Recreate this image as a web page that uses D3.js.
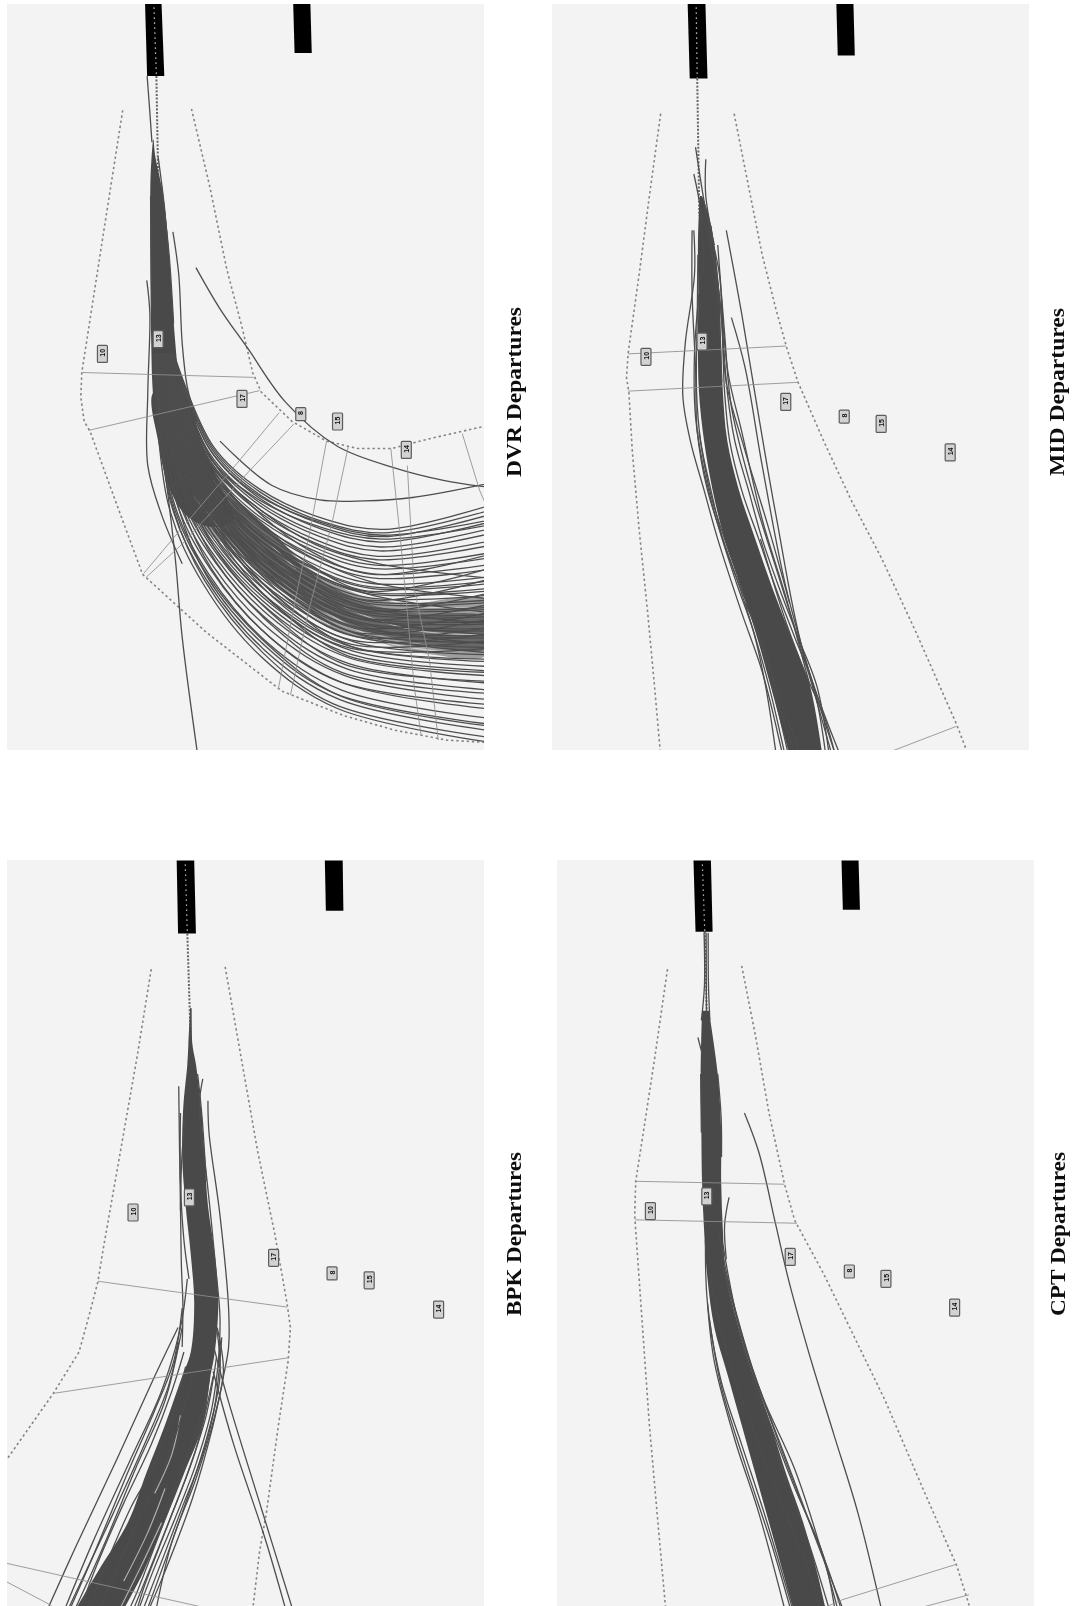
<!DOCTYPE html>
<html><head><meta charset="utf-8">
<style>html,body{margin:0;padding:0;background:#fff}svg{display:block}</style>
<script src="https://cdn.jsdelivr.net/npm/d3@7/dist/d3.min.js"></script></head><body>
<svg id="c" width="1077" height="1606"></svg>
<script>
const waypointLabels=["10","13","17","8","15","14"];

const dvrWaypoints=[[298,722],[460,692],[704,814],[875,845],[982,860],[1182,918]];
const midWaypoints=[[310,728],[474,697],[719,820],[890,850],[998,865],[1200,923]];
const bpkWaypoints=[[387,764],[551,733],[796,857],[966,889],[1074,903],[1276,963]];
const cptWaypoints=[[323,761],[488,731],[732,855],[905,885],[1012,900],[1213,959]];

const dvrRunways=[[[422,8],[470,8],[478,155],[428,155]],[[853,8],[903,8],[907,108],[857,108]]];
const midRunways=[[[432,8],[484,8],[490,160],[438,160]],[[867,8],[917,8],[921,113],[871,113]]];
const bpkRunways=[[[514,42],[565,42],[570,192],[518,192]],[[945,42],[997,42],[999,145],[948,145]]];
const cptRunways=[[[449,42],[500,42],[505,188],[455,188]],[[882,42],[932,42],[936,143],[886,143]]];

const dvrCenter=[[448,15],[455,155],[462,440]];
const midCenter=[[457,15],[460,160],[466,440]];
const bpkCenter=[[539,50],[545,192],[556,440]];
const cptCenter=[[475,50],[482,188],[488,360]];

const dvrBoundaries=[
 [[357,225],[300,480],[238,760],[235,810],[245,860],[262,880],[340,1030],[415,1172],[600,1290],[820,1410],[1000,1460],[1150,1490],[1300,1510],[1420,1515]],
 [[557,222],[610,380],[660,550],[705,670],[735,760],[760,800],[850,860],[950,900],[1040,915],[1140,915],[1250,895],[1420,868]]];
const midBoundaries=[
 [[353,232],[320,400],[290,560],[258,720],[253,770],[260,800],[270,920],[290,1080],[315,1250],[335,1400],[352,1535]],
 [[568,232],[610,380],[650,520],[690,630],[722,710],[755,780],[830,900],[910,1020],[1000,1140],[1100,1290],[1220,1480],[1250,1535]]];
const bpkBoundaries=[
 [[440,265],[400,440],[345,660],[300,840],[285,905],[265,960],[230,1050],[155,1135],[10,1280]],
 [[655,260],[700,440],[750,640],[800,810],[835,950],[845,1000],[838,1070],[810,1200],[775,1380],[755,1460],[735,1580]]];
const cptBoundaries=[
 [[373,265],[335,450],[300,610],[280,700],[277,770],[285,850],[300,1000],[320,1200],[345,1400],[368,1580]],
 [[590,258],[630,400],[670,560],[715,705],[745,780],[830,890],[920,1020],[1010,1150],[1120,1330],[1220,1490],[1260,1580]]];

const dvrGates=[
 [[238,760],[738,770]],[[258,878],[755,797]],
 [[812,842],[690,945],[520,1085],[418,1170]],[[855,865],[720,965],[530,1110],[425,1178]],
 [[950,900],[900,1090],[860,1220],[810,1405]],[[1013,912],[965,1070],[900,1240],[845,1418]],
 [[1137,915],[1165,1100],[1205,1400],[1225,1500]],[[1185,950],[1205,1200],[1250,1350],[1275,1510]],
 [[1345,885],[1395,1000],[1420,1040]]];
const midGates=[[[258,722],[720,706]],[[258,798],[755,780]],[[1020,1535],[1218,1482]]];
const bpkGates=[[[285,905],[835,958]],[[155,1135],[838,1062]],[[10,1482],[250,1520],[600,1575]],[[10,1518],[150,1570]]];
const cptGates=[[[280,700],[715,706]],[[278,779],[752,786]],[[1220,1485],[885,1558],[830,1575]],[[1255,1548],[1110,1575]]];

// Solid bundle of tracks: [row, left edge, right edge]
const dvrBand=[[285,445,447],[320,441,452],[360,438,464],[400,437,475],[500,437,490],[600,438,500],[700,440,510],[780,443,522],[850,450,545]];
const midBand=[[400,468,474],[430,465,490],[500,462,510],[600,463,525],[700,462,530],[800,465,535],[900,480,548],[1000,505,582],[1100,540,630],[1200,590,680],[1300,635,735],[1400,675,790],[1535,728,825]];
const bpkBand=[[345,553,557],[420,548,560],[460,545,570],[550,533,585],[650,530,595],[750,540,605],[850,555,625],[950,565,635],[1050,555,625],[1100,530,612],[1200,480,590],[1300,425,535],[1400,372,478],[1500,285,418],[1575,222,362]];
const cptBand=[[350,474,494],[480,470,520],[600,472,530],[700,474,530],[800,480,535],[900,490,545],[1000,510,580],[1100,550,625],[1200,590,675],[1300,630,720],[1400,670,770],[1500,710,810],[1575,740,835]];

// Dense part of the DVR fan: solid outline, the lighter core, and its darkest run
const dvrSolid=[[447,800],[530,800],[590,910],[640,990],[680,1060],[620,1075],[540,1050],[490,990],[460,900]];
const dvrCore=[[590,930],[690,1020],[800,1090],[900,1160],[1050,1215],[1200,1230],[1420,1225],[1420,1335],[1250,1335],[1100,1310],[950,1275],[820,1205],[700,1130],[600,1085],[530,1010]];
const dvrDark=[[620,1000],[800,1090],[900,1170],[1040,1225],[1200,1250],[1420,1262],[1420,1322],[1200,1310],[1040,1280],[880,1225],[760,1160],[650,1090]];

// Pale gaps between neighbouring tracks
const dvrGaps=[[[560,1010],[680,1110],[820,1215],[960,1275]],[[620,980],[730,1070],[860,1160]],[[900,1130],[1050,1205],[1200,1235],[1420,1240]],[[800,1180],[950,1250],[1120,1310],[1300,1330]],[[1000,1240],[1200,1285],[1420,1295]]];
const midGaps=[];
const bpkGaps=[[[480,1330],[430,1420],[360,1520]],[[470,1400],[410,1490],[350,1575]],[[525,1180],[500,1260],[450,1340]]];
const cptGaps=[];

const dvrTracks=[
 [[428,155],[435,220],[442,290]],
 [[438,400],[440,520],[442,650]],[[470,380],[492,520],[505,660]],[[460,320],[478,420],[490,520]],
 [[503,473],[520,560],[530,700],[545,790],[572,860]],
 [[427,572],[436,640],[430,800],[430,950],[470,1050],[530,1150]],
 [[570,546],[640,630],[720,710],[830,820],[980,910],[1150,955],[1290,980],[1430,995]],
 [[640,900],[790,990],[930,1020],[1060,1022],[1200,1015],[1430,985]],
 [[480,960],[510,1140],[530,1300],[574,1535]],
 [[505,720],[620,910],[760,1000],[950,1060],[1120,1080],[1430,1030]],
 [[504,720],[617,912],[757,1004],[946,1066],[1117,1087],[1430,1040]],
 [[503,720],[615,915],[753,1008],[942,1071],[1114,1095],[1430,1049]],
 [[501,720],[611,918],[748,1013],[937,1080],[1110,1106],[1430,1064]],
 [[499,720],[607,922],[743,1019],[931,1088],[1106,1116],[1430,1078]],
 [[498,720],[604,924],[740,1023],[927,1094],[1103,1124],[1430,1088]],
 [[496,720],[600,928],[734,1028],[921,1102],[1099,1135],[1430,1103]],
 [[495,720],[598,930],[731,1032],[918,1108],[1096,1142],[1430,1112]],
 [[493,720],[594,934],[726,1038],[912,1116],[1092,1153],[1430,1127]],
 [[492,720],[591,936],[723,1042],[908,1122],[1089,1160],[1430,1137]],
 [[490,720],[588,940],[718,1048],[902,1130],[1085,1171],[1430,1151]],
 [[489,720],[585,942],[714,1051],[899,1136],[1082,1179],[1430,1161]],
 [[487,720],[581,946],[709,1057],[893,1144],[1078,1190],[1430,1176]],
 [[486,720],[578,948],[706,1061],[889,1150],[1075,1197],[1430,1185]],
 [[485,720],[577,950],[704,1063],[887,1152],[1074,1200],[1430,1190]],
 [[484,720],[575,952],[700,1067],[883,1158],[1071,1208],[1430,1200]],
 [[483,720],[573,953],[699,1068],[882,1161],[1070,1211],[1430,1205]],
 [[482,720],[571,956],[695,1072],[878,1166],[1067,1219],[1430,1214]],
 [[481,720],[568,958],[692,1076],[874,1172],[1064,1226],[1430,1224]],
 [[480,720],[567,959],[690,1078],[872,1175],[1063,1230],[1430,1229]],
 [[479,720],[564,962],[687,1082],[868,1180],[1060,1237],[1430,1239]],
 [[479,720],[563,963],[685,1084],[866,1183],[1058,1241],[1430,1243]],
 [[477,720],[560,965],[682,1087],[863,1189],[1056,1248],[1430,1253]],
 [[477,720],[559,966],[680,1089],[861,1192],[1054,1252],[1430,1258]],
 [[476,720],[556,969],[677,1093],[857,1197],[1051,1259],[1430,1268]],
 [[475,720],[555,970],[675,1095],[855,1200],[1050,1263],[1430,1273]],
 [[474,720],[552,972],[672,1099],[851,1206],[1047,1270],[1430,1282]],
 [[473,720],[551,974],[670,1101],[849,1208],[1046,1273],[1430,1287]],
 [[472,720],[549,976],[667,1105],[846,1214],[1043,1281],[1430,1297]],
 [[471,720],[547,977],[665,1106],[844,1217],[1042,1284],[1430,1302]],
 [[470,720],[545,980],[661,1110],[840,1222],[1039,1292],[1430,1311]],
 [[469,720],[542,982],[658,1114],[836,1228],[1036,1299],[1430,1321]],
 [[467,720],[538,986],[653,1120],[830,1236],[1032,1310],[1430,1336]],
 [[465,720],[534,989],[648,1125],[825,1245],[1028,1321],[1430,1350]],
 [[464,720],[532,992],[644,1129],[821,1250],[1025,1328],[1430,1360]],
 [[463,720],[529,994],[641,1133],[817,1256],[1022,1335],[1430,1369]],
 [[462,720],[526,996],[638,1137],[813,1262],[1019,1343],[1430,1379]],
 [[460,720],[522,1000],[632,1142],[807,1270],[1015,1354],[1430,1394]],
 [[458,720],[519,1004],[627,1148],[802,1278],[1011,1365],[1430,1408]],
 [[456,720],[513,1008],[621,1156],[794,1290],[1005,1379],[1430,1428]],
 [[453,720],[508,1013],[614,1163],[787,1301],[1000,1394],[1430,1447]],
 [[451,720],[503,1018],[607,1171],[779,1312],[994,1408],[1430,1466]],
 [[448,720],[496,1024],[598,1180],[769,1326],[987,1427],[1430,1491]],
 [[445,720],[490,1030],[590,1190],[760,1340],[980,1445],[1430,1515]],
 [[500,720],[606,925],[735,1034],[905,1125],[1085,1172],[1430,1130]],
 [[497,720],[598,932],[722,1046],[890,1146],[1070,1206],[1430,1158]],
 [[494,720],[590,940],[712,1056],[880,1160],[1062,1224],[1430,1180]],
 [[491,720],[584,945],[702,1066],[868,1178],[1052,1246],[1430,1208]],
 [[488,720],[577,951],[692,1076],[858,1192],[1044,1262],[1430,1232]],
 [[486,720],[572,956],[684,1084],[848,1206],[1036,1280],[1430,1248]],
 [[484,720],[568,960],[678,1090],[842,1214],[1032,1290],[1430,1262]],
 [[482,720],[565,963],[672,1098],[836,1222],[1028,1298],[1430,1279]],
 [[480,720],[561,966],[666,1105],[830,1232],[1024,1306],[1430,1292]],
 [[478,720],[558,968],[662,1110],[826,1238],[1020,1314],[1430,1306]],
 [[476,720],[554,972],[656,1116],[820,1246],[1016,1322],[1430,1322]],
 [[495,720],[596,932],[735,1028],[915,1110],[1100,1150],[1430,1180]],
 [[492,720],[590,938],[720,1044],[900,1135],[1085,1188],[1430,1222]],
 [[489,720],[582,946],[708,1060],[885,1158],[1070,1212],[1430,1250]],
 [[486,720],[576,952],[698,1070],[875,1174],[1058,1238],[1430,1272]],
 [[483,720],[570,958],[688,1082],[865,1190],[1048,1258],[1430,1296]],
 [[480,720],[564,962],[680,1090],[855,1202],[1040,1275],[1430,1314]],
 [[477,720],[558,968],[672,1100],[846,1216],[1032,1292],[1430,1332]],
 [[474,720],[550,976],[660,1112],[832,1232],[1020,1318],[1430,1345]],
 [[471,720],[544,982],[650,1122],[822,1248],[1012,1338],[1430,1372]],
 [[467,720],[536,988],[640,1134],[810,1264],[1004,1356],[1430,1390]],
 [[462,720],[528,994],[628,1146],[798,1280],[994,1372],[1430,1415]],
 [[458,720],[518,1006],[615,1160],[785,1300],[985,1390],[1430,1438]],
 [[455,720],[510,1012],[602,1176],[772,1318],[975,1415],[1430,1478]],
 [[450,720],[498,1022],[595,1184],[765,1332],[970,1436],[1430,1505]],
 [[498,720],[602,926],[745,1016],[935,1076],[1110,1100],[1430,1070]],
 [[502,720],[612,918],[750,1010],[942,1068],[1112,1092],[1430,1060]],
 [[449,720],[500,1020],[604,1174],[780,1316],[990,1420],[1430,1482]]];

const midTracks=[
 [[450,470],[452,560],[425,700],[418,810],[440,900],[480,1000],[520,1100],[590,1250],[650,1370],[708,1535]],
 [[445,470],[445,600],[455,750],[460,880],[490,1000],[560,1150],[640,1300],[725,1535]],
 [[545,470],[590,640],[640,850],[690,1050],[770,1330],[875,1535]],
 [[560,648],[600,750],[650,950],[720,1200],[800,1400],[862,1535]],
 [[520,500],[540,680],[560,830],[620,1000],[700,1180],[780,1360],[852,1535]],
 [[530,600],[550,760],[590,880],[650,1060],[720,1220],[790,1400]],
 [[450,355],[470,430],[480,560]],
 [[455,300],[475,390],[495,470]],
 [[485,325],[485,400],[510,500]],
 [[500,460],[530,640],[545,780],[600,920],[670,1080],[730,1230]],
 [[465,880],[500,1010],[590,1200],[680,1380],[760,1535]],
 [[470,430],[505,520],[530,640],[540,800],[555,900],[590,1000],[640,1100],[690,1200],[745,1300],[800,1400],[835,1535]],
 [[462,520],[460,650],[458,800],[470,900],[500,1000],[535,1100],[585,1200],[630,1300],[670,1400],[715,1535]],
 [[500,480],[525,560],[535,680],[548,800],[570,900],[610,1000],[650,1100],[700,1200],[755,1300],[810,1400],[845,1535]],
 [[465,600],[452,720],[455,850],[480,960],[520,1070],[575,1190],[625,1290],[660,1400],[690,1535]],
 [[480,420],[495,470],[520,620],[532,780]],
 [[645,1100],[720,1270],[780,1380],[830,1460],[862,1535]],
 [[600,1230],[660,1330],[700,1440],[745,1535]]];
const bpkTracks=[
 [[555,345],[555,420]],
 [[520,505],[522,620],[525,750],[528,880],[532,950],[530,1040]],
 [[518,1000],[450,1100],[340,1270],[220,1450],[140,1575]],
 [[605,535],[608,600],[640,770],[665,960],[665,1040],[650,1100],[620,1200],[560,1350],[480,1500],[435,1575]],
 [[615,1020],[660,1140],[760,1370],[850,1575]],
 [[620,1090],[680,1240],[770,1430],[830,1575]],
 [[590,490],[580,540],[590,640]],
 [[630,1000],[640,1100],[600,1230],[530,1380],[430,1575]],
 [[620,1100],[570,1250],[490,1400],[390,1575]],
 [[530,1000],[480,1150],[400,1280],[300,1450],[220,1575]],
 [[545,900],[525,1000],[470,1130],[380,1270],[270,1440],[190,1575]],
 [[600,1150],[540,1270],[450,1420],[345,1575]],
 [[525,560],[525,700],[535,820],[550,900]],
 [[590,620],[610,750],[628,880],[640,980],[635,1080]],
 [[520,1030],[490,1120],[420,1240],[330,1380],[250,1500],[200,1575]],
 [[535,1050],[500,1130],[440,1240],[360,1360],[280,1490],[235,1575]],
 [[540,1080],[510,1160],[450,1280],[380,1370],[300,1500],[258,1575]],
 [[560,1100],[525,1190],[470,1300],[400,1400],[330,1510],[290,1575]],
 [[610,1100],[585,1200],[525,1310],[460,1430],[400,1540],[378,1575]],
 [[630,1060],[600,1180],[550,1290],[480,1420],[420,1530],[400,1575]],
 [[640,1040],[615,1170],[570,1280],[510,1390],[445,1500],[405,1575]],
 [[645,1020],[625,1160],[590,1260],[535,1360],[470,1480],[418,1575]],
 [[632,1000],[650,1090],[625,1180],[570,1310],[500,1440],[455,1575]],
 [[530,960],[505,1070],[450,1170],[370,1300],[270,1470],[205,1575]],
 [[545,540],[530,640],[525,760]],
 [[575,480],[588,570],[600,700]]];
const cptTracks=[
 [[598,560],[640,640],[690,790],[730,910],[790,1060],[860,1220],[930,1380],[998,1575]],
 [[553,733],[540,790],[545,860]],
 [[462,405],[475,440]],
 [[490,950],[510,1070],[570,1230],[640,1380],[715,1575]],
 [[495,980],[530,1120],[600,1280],[680,1450],[732,1575]],
 [[540,880],[620,1080],[720,1270],[810,1440],[885,1575]],
 [[545,900],[640,1130],[740,1320],[830,1470],[862,1575]],
 [[530,860],[610,1080],[700,1270],[790,1450],[845,1575]],
 [[480,190],[481,300],[472,370]],
 [[492,190],[493,300],[497,370]],
 [[486,190],[487,360]],
 [[470,480],[472,600]],
 [[520,480],[530,570],[531,650]],
 [[484,820],[490,950],[530,1110],[590,1240],[660,1390],[738,1575]],
 [[500,900],[550,1060],[630,1220],[690,1330],[770,1470],[820,1575]],
 [[535,830],[590,1020],[680,1200],[760,1350],[840,1490],[880,1575]],
 [[520,800],[580,990],[650,1140],[745,1290],[820,1450],[870,1575]]];

const scene=[0,1571];
const panels=[
 {title:"DVR Departures",crop:[0,0,540,770],rect:[7,4,477,746],base:[521,392],len:170,way:dvrWaypoints,run:dvrRunways,center:dvrCenter,bounds:dvrBoundaries,gates:dvrGates,band:dvrBand,tracks:dvrTracks,gaps:dvrGaps},
 {title:"MID Departures",crop:[540,0,537,770],rect:[552,4,477,746],base:[1064,392],len:168,way:midWaypoints,run:midRunways,center:midCenter,bounds:midBoundaries,gates:midGates,band:midBand,tracks:midTracks,gaps:midGaps},
 {title:"BPK Departures",crop:[0,840,540,766],rect:[7,860,477,746],base:[521,1234],len:164,way:bpkWaypoints,run:bpkRunways,center:bpkCenter,bounds:bpkBoundaries,gates:bpkGates,band:bpkBand,tracks:bpkTracks,gaps:bpkGaps},
 {title:"CPT Departures",crop:[540,840,537,766],rect:[557,860,477,746],base:[1065,1234],len:164,way:cptWaypoints,run:cptRunways,center:cptCenter,bounds:cptBoundaries,gates:cptGates,band:cptBand,tracks:cptTracks,gaps:cptGaps}];

const svg=d3.select("#c");
const defs=svg.append("defs");
const f=defs.append("filter").attr("id","soft").attr("filterUnits","userSpaceOnUse")
 .attr("x",0).attr("y",0).attr("width",1077).attr("height",1606);
f.append("feGaussianBlur").attr("stdDeviation",0.7);
const root=svg.append("g").attr("filter","url(#soft)");

panels.forEach((p,i)=>{
 const x=d3.scaleLinear().domain(scene).range([p.crop[0],p.crop[0]+p.crop[2]]);
 const y=d3.scaleLinear().domain(scene).range([p.crop[1],p.crop[1]+p.crop[3]]);
 const cat=d3.curveCatmullRom.alpha(.5);
 const curve=d3.line().x(d=>x(d[0])).y(d=>y(d[1])).curve(cat);
 const closed=d3.line().x(d=>x(d[0])).y(d=>y(d[1])).curve(d3.curveCatmullRomClosed.alpha(.5));
 const straight=d3.line().x(d=>x(d[0])).y(d=>y(d[1]));
 const area=d3.area().y(d=>y(d[0])).x0(d=>x(d[1])).x1(d=>x(d[2])).curve(cat);
 defs.append("clipPath").attr("id","clip"+i).append("rect")
   .attr("x",p.rect[0]).attr("y",p.rect[1]).attr("width",p.rect[2]).attr("height",p.rect[3]);
 root.append("rect").attr("x",p.rect[0]).attr("y",p.rect[1]).attr("width",p.rect[2]).attr("height",p.rect[3]).attr("fill","#f3f3f3");
 const g=root.append("g").attr("clip-path",`url(#clip${i})`);

 g.selectAll(".bd").data(p.bounds).join("path").attr("d",straight).attr("fill","none")
   .attr("stroke","#858585").attr("stroke-width",1.6).attr("stroke-dasharray","2.4 2.8");
 g.append("path").datum(p.center.slice(1)).attr("d",straight).attr("fill","none")
   .attr("stroke","#666").attr("stroke-width",2).attr("stroke-dasharray","2 1.6");
 g.append("path").datum(p.band).attr("d",area).attr("fill","#484848");
 if(p.title.startsWith("DVR")){
   g.append("path").datum(dvrCore).attr("d",closed).attr("fill","#4a4a4a").attr("fill-opacity",.5);
   g.append("path").datum(dvrDark).attr("d",closed).attr("fill","#444").attr("fill-opacity",.6);
   g.append("path").datum(dvrSolid).attr("d",closed).attr("fill","#484848");
 }
 g.selectAll(".gap").data(p.gaps).join("path").attr("d",curve).attr("fill","none")
   .attr("stroke","#f3f3f3").attr("stroke-opacity",.6).attr("stroke-width",1.2);
 g.selectAll(".tr").data(p.tracks).join("path").attr("d",curve).attr("fill","none")
   .attr("stroke","#4e4e4e").attr("stroke-width",1.3);
 g.selectAll(".gt").data(p.gates).join("path").attr("d",straight).attr("fill","none")
   .attr("stroke","#8e8e8e").attr("stroke-opacity",.85).attr("stroke-width",1);
 g.selectAll(".rw").data(p.run).join("path").attr("d",d=>straight(d)+"Z").attr("fill","#050505");
 g.append("path").datum(p.center.slice(0,2)).attr("d",straight).attr("fill","none")
   .attr("stroke","#aaa").attr("stroke-width",1.2).attr("stroke-dasharray","1.6 3.4");

 const w=g.selectAll(".wp").data(p.way).join("g").attr("transform",d=>`translate(${x(d[0])},${y(d[1])})`);
 w.append("rect").attr("x",-5).attr("y",(d,k)=>k===3?-6.5:-8.5).attr("width",10).attr("height",(d,k)=>k===3?13:17)
   .attr("fill","#d2d2d2").attr("stroke","#5c5c5c").attr("stroke-width",1.2).attr("rx",1);
 w.append("text").data(waypointLabels).text(d=>d)
   .attr("transform","rotate(-90)").attr("text-anchor","middle").attr("x",1).attr("y",2.6)
   .attr("font-family","Liberation Sans").attr("font-size",7).attr("font-weight",700).attr("fill","#111");

 root.append("text").text(p.title)
   .attr("transform",`translate(${p.base[0]},${p.base[1]}) rotate(-90)`)
   .attr("text-anchor","middle").attr("font-family","Liberation Serif").attr("font-weight",700)
   .attr("font-size",21).attr("textLength",p.len).attr("lengthAdjust","spacingAndGlyphs").attr("fill","#111");
});
</script></body></html>
